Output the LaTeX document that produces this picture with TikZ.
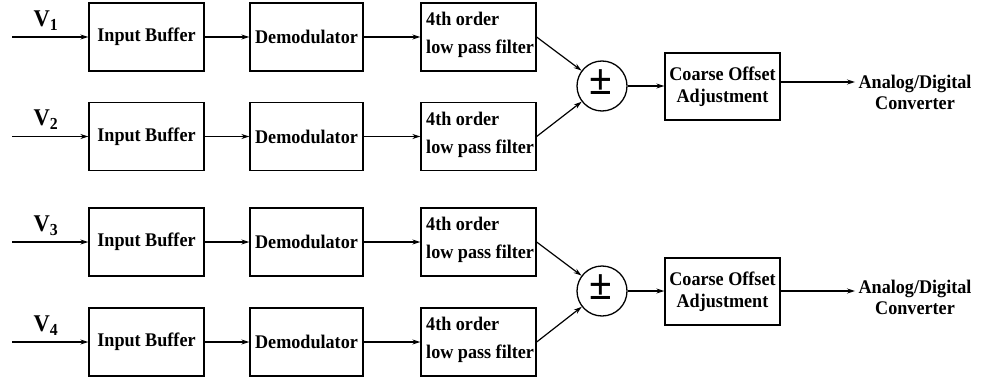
\documentclass[tikz,border=0pt]{standalone}
\usepackage{fontspec}
\setmainfont{Liberation Serif}[BoldFeatures={FakeStretch=0.94}]
\usetikzlibrary{arrows.meta}
\begin{document}
\begin{tikzpicture}[x=1pt,y=-1pt,
  every node/.style={font=\fontsize{19.3}{23}\selectfont\bfseries},
  blk/.style={draw,line width=1.3pt,minimum width=115pt,minimum height=68pt,inner sep=0pt},
  sumc/.style={draw,circle,line width=1.3pt,minimum size=50pt,inner sep=0pt},
  conn/.style={line width=1.2pt,-{Stealth[length=8pt,width=5pt]}},
  vlab/.style={font=\fontsize{24}{24}\selectfont\bfseries}]
\useasboundingbox (0,0) rectangle (984,377);
% rows
\foreach \r/\y in {1/37,2/136.5,3/242,4/342}{
  \coordinate (in\r) at (12,\y);
  \node[blk] (buf\r) at (146.5,\y) {Input Buffer};
  \node[blk,minimum width=113pt] (dem\r) at (306.5,\y) {Demodulator};
  \node[blk] (fil\r) at (478.5,\y) {};
  \node[anchor=west,align=left,font=\fontsize{19.3}{28}\selectfont\bfseries,inner sep=0pt] (ftx\r) at (426,\y-2) {4th order\\low pass filter};
  \draw[conn] (in\r) -- (buf\r);
  \draw[conn] (buf\r) -- (dem\r);
  \draw[conn] (dem\r) -- (fil\r);
}
\node[vlab] (v1) at (46,21) {V\textsubscript{1}};
\node[vlab] (v2) at (46,120) {V\textsubscript{2}};
\node[vlab] (v3) at (46,226) {V\textsubscript{3}};
\node[vlab] (v4) at (46,326) {V\textsubscript{4}};
% summing junctions
\node[sumc] (s1) at (602,86) {};
\node[sumc] (s2) at (602,291) {};
\node[font=\fontsize{44}{44}\selectfont\bfseries] (pm1) at (601,82) {±};
\node[font=\fontsize{44}{44}\selectfont\bfseries] (pm2) at (601,287) {±};
\draw[conn] (fil1.east) -- (s1);
\draw[conn] (fil2.east) -- (s1);
\draw[conn] (fil3.east) -- (s2);
\draw[conn] (fil4.east) -- (s2);
% offset adjust
\node[blk,minimum height=67pt,align=center,font=\fontsize{19.3}{22}\selectfont\bfseries] (co1) at (722.5,86.5) {Coarse Offset\\Adjustment};
\node[blk,minimum height=67pt,align=center,font=\fontsize{19.3}{22}\selectfont\bfseries] (co2) at (722.5,291.5) {Coarse Offset\\Adjustment};
\draw[conn] (s1) -- (co1.west |- s1);
\draw[conn] (s2) -- (co2.west |- s2);
\node[align=center,font=\fontsize{19.3}{21}\selectfont\bfseries] (ad1) at (915,92) {Analog/Digital\\Converter};
\node[align=center,font=\fontsize{19.3}{21}\selectfont\bfseries] (ad2) at (915,297) {Analog/Digital\\Converter};
\draw[conn] (co1.east |- 0,82) -- (ad1.west |- 0,82);
\draw[conn] (co2.east |- 0,291) -- (ad2.west |- 0,291);
\end{tikzpicture}
\end{document}
